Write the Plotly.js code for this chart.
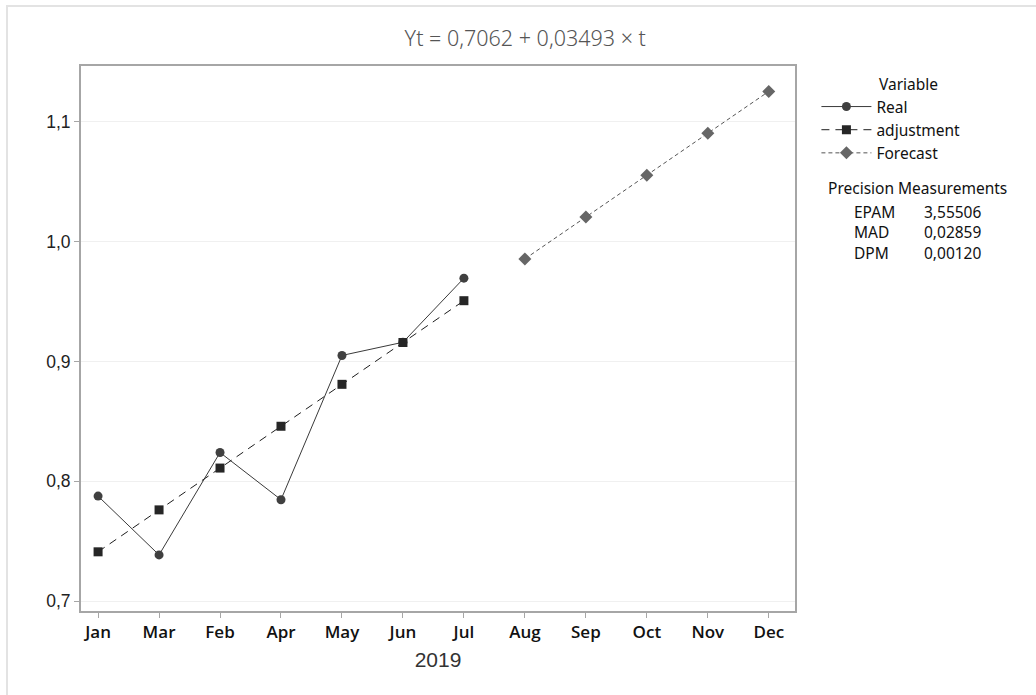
<!DOCTYPE html>
<html>
<head>
<meta charset="utf-8">
<script src="https://cdn.plot.ly/plotly-3.0.1.min.js"></script>
<style>
html,body{margin:0;padding:0;background:#fff;}
#frame{position:absolute;left:6px;top:5px;width:1100px;height:800px;border-top:2px solid #e3e3e3;border-left:2px solid #e3e3e3;}
#chart{position:absolute;left:0;top:0;width:1036px;height:695px;}
</style>
</head>
<body>
<div id="frame"></div>
<div id="chart"></div>
<script>
const months = ["Jan","Mar","Feb","Apr","May","Jun","Jul","Aug","Sep","Oct","Nov","Dec"];
const realMonths = ["Jan","Mar","Feb","Apr","May","Jun","Jul"];
const realValues = [0.7876, 0.7385, 0.8240, 0.7846, 0.9050, 0.9160, 0.9695];
const adjustValues = [0.7411, 0.7761, 0.8110, 0.8459, 0.8809, 0.9158, 0.9507];
const forecastMonths = ["Aug","Sep","Oct","Nov","Dec"];
const forecastValues = [0.9856, 1.0206, 1.0555, 1.0904, 1.1254];
const yTicks = [0.7, 0.8, 0.9, 1.0, 1.1];
const yTickLabels = ["0,7","0,8","0,9","1,0","1,1"];
const measureNames = ["EPAM","MAD","DPM"];
const measureValues = ["3,55506","0,02859","0,00120"];

const traces = [
  {x: realMonths, y: realValues, name: "Real", type: "scatter", mode: "lines+markers",
   line: {color: "#3a3a3a", width: 1, dash: "solid"},
   marker: {symbol: "circle", size: 9, color: "#404040"}},
  {x: realMonths, y: adjustValues, name: "adjustment", type: "scatter", mode: "lines+markers",
   line: {color: "#1e1e1e", width: 1, dash: "8px,6px"},
   marker: {symbol: "square", size: 9, color: "#262626"}},
  {x: forecastMonths, y: forecastValues, name: "Forecast", type: "scatter", mode: "lines+markers",
   line: {color: "#555555", width: 1, dash: "4px,3px"},
   marker: {symbol: "diamond", size: 10, color: "#666666"}}
];

const txtFont = {family: "Noto Sans, Open Sans, sans-serif", size: 15.5, color: "#111"};
const ann = [
  {text: "Variable", xref: "paper", yref: "paper", x: 1.115, y: 0.967, xanchor: "left", yanchor: "middle",
   showarrow: false, font: txtFont},
  {text: "Precision Measurements", xref: "paper", yref: "paper", x: 1.0434, y: 0.776, xanchor: "left", yanchor: "middle",
   showarrow: false, font: txtFont}
];
const measureY = [0.7327, 0.696, 0.657];
for (let i = 0; i < measureNames.length; i++) {
  ann.push({text: measureNames[i], xref: "paper", yref: "paper", x: 1.080, y: measureY[i], xanchor: "left", yanchor: "middle",
    showarrow: false, font: txtFont});
  ann.push({text: measureValues[i], xref: "paper", yref: "paper", x: 1.263, y: measureY[i], xanchor: "right", yanchor: "middle",
    showarrow: false, font: txtFont});
}

const layout = {
  width: 1036, height: 695,
  paper_bgcolor: "rgba(0,0,0,0)", plot_bgcolor: "#fff",
  margin: {l: 81, r: 241, t: 66, b: 84},
  separators: ",.",
  showlegend: true,
  title: {text: "Yt = 0,7062 + 0,03493 × t", xref: "container", x: 0.507, xanchor: "center",
          yref: "container", y: 0.945, yanchor: "middle",
          font: {family: "Noto Sans, Open Sans, sans-serif", size: 21.5, color: "#555", weight: 300}},
  xaxis: {type: "category", categoryorder: "array", categoryarray: months,
          range: [-0.28, 11.43], showgrid: false, zeroline: false,
          showline: true, linecolor: "#a6a6a6", linewidth: 2, mirror: true,
          ticks: "outside", ticklen: 5, tickcolor: "#a6a6a6", tickwidth: 1,
          tickfont: {family: "Open Sans, Noto Sans, sans-serif", size: 17, color: "#111", weight: 600},
          title: {text: "2019", standoff: 10, font: {family: "Liberation Sans, Arial, sans-serif", size: 21, color: "#333"}}},
  yaxis: {range: [0.6917, 1.1466], tickvals: yTicks, ticktext: yTickLabels,
          showgrid: true, gridcolor: "#f0f0f0", gridwidth: 1, zeroline: false,
          showline: true, linecolor: "#a6a6a6", linewidth: 2, mirror: true,
          ticks: "outside", ticklen: 5, tickcolor: "#a6a6a6", tickwidth: 1,
          tickfont: {family: "Liberation Sans, Arial, sans-serif", size: 17.5, color: "#222"}},
  legend: {x: 1.03, xanchor: "left", y: 0.956, yanchor: "top", bgcolor: "rgba(0,0,0,0)",
           font: txtFont, tracegroupgap: 0, itemwidth: 50},
  annotations: ann
};

Plotly.newPlot("chart", traces, layout, {displayModeBar: false, staticPlot: true});
</script>
</body>
</html>
